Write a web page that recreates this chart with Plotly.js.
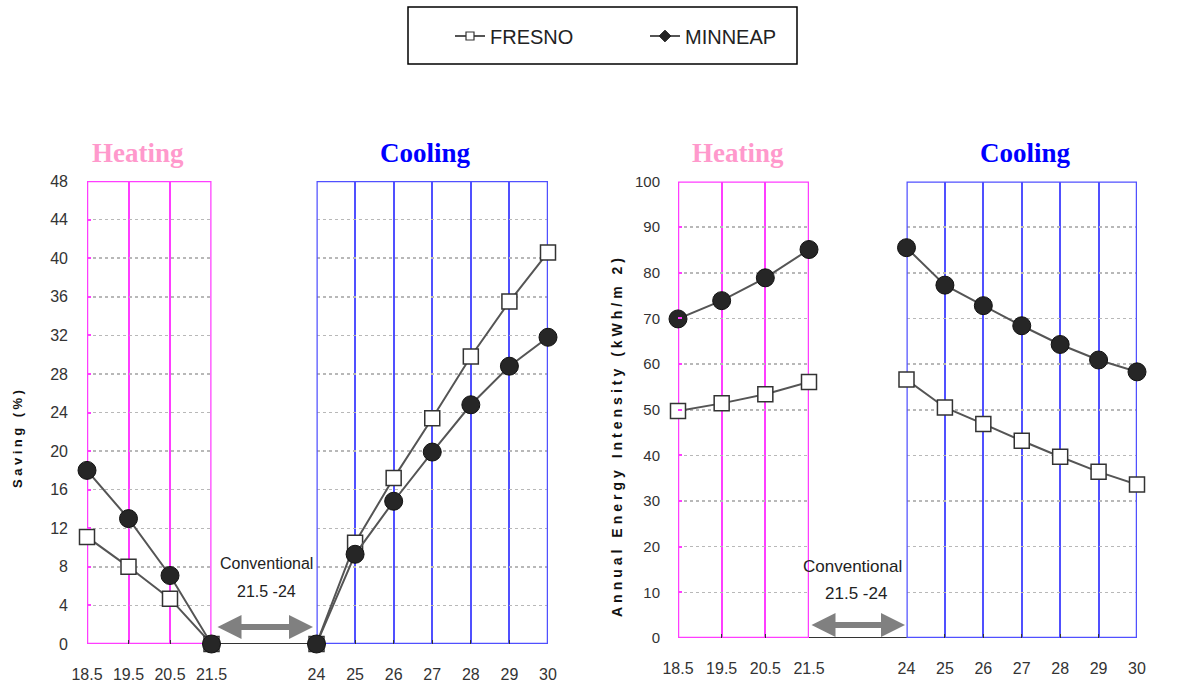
<!DOCTYPE html>
<html>
<head>
<meta charset="utf-8">
<script src="https://cdn.plot.ly/plotly-3.0.1.min.js"></script>
<style>html,body{margin:0;padding:0;background:#fff;}#chart{width:1181px;height:686px;}</style>
</head>
<body>
<div id="chart"></div>
<script>
// ---- data ----
const heatX = [18.5, 19.5, 20.5, 21.5];
const coolX = [24, 25, 26, 27, 28, 29, 30];
const heatLabels = ['18.5', '19.5', '20.5', '21.5'];
const coolLabels = ['24', '25', '26', '27', '28', '29', '30'];

// Saving (%)
const fresnoSaveHeat = [11.1, 8.0, 4.7, 0];
const minneapSaveHeat = [18.0, 13.0, 7.1, 0];
const fresnoSaveCool = [0, 10.5, 17.2, 23.4, 29.8, 35.5, 40.6];
const minneapSaveCool = [0, 9.3, 14.8, 19.9, 24.8, 28.8, 31.8];

// Annual Energy Intensity (kWh/m2)
const fresnoEnergyHeat = [49.7, 51.4, 53.4, 56.1];
const minneapEnergyHeat = [69.9, 73.9, 78.9, 85.1];
const fresnoEnergyCool = [56.6, 50.5, 46.9, 43.2, 39.7, 36.4, 33.6];
const minneapEnergyCool = [85.5, 77.3, 72.8, 68.4, 64.3, 60.9, 58.3];

const seriesNames = ['FRESNO', 'MINNEAP'];

// ---- layout helpers ----
const W = 1181, H = 686;
const px = v => v / W;
const py = v => 1 - v / H;
const FONT = 'Liberation Sans, Arial, sans-serif';
const SERIF = 'Liberation Serif, Times New Roman, serif';
const MAG = '#ff3dff';
const BLUE = '#5050ff';
const LINEC = '#555555';

const fresnoStyle = {
  mode: 'lines+markers', cliponaxis: false, showlegend: false,
  line: {color: LINEC, width: 2},
  marker: {symbol: 'square', size: 15, color: '#ffffff', line: {color: '#333333', width: 1.5}}
};
const minneapStyle = {
  mode: 'lines+markers', cliponaxis: false, showlegend: false,
  line: {color: LINEC, width: 2},
  marker: {symbol: 'circle', size: 18, color: '#262626', line: {color: '#111111', width: 1}}
};

function tr(style, name, x, y, xa, ya) {
  return Object.assign({}, style, {name: name, x: x, y: y, xaxis: xa, yaxis: ya,
    marker: Object.assign({}, style.marker), line: Object.assign({}, style.line)});
}

const data = [
  tr(fresnoStyle, seriesNames[0], heatX, fresnoSaveHeat, 'x', 'y'),
  tr(fresnoStyle, seriesNames[0], coolX, fresnoSaveCool, 'x2', 'y'),
  tr(minneapStyle, seriesNames[1], heatX, minneapSaveHeat, 'x', 'y'),
  tr(minneapStyle, seriesNames[1], coolX, minneapSaveCool, 'x2', 'y'),
  tr(fresnoStyle, seriesNames[0], heatX, fresnoEnergyHeat, 'x3', 'y3'),
  tr(fresnoStyle, seriesNames[0], coolX, fresnoEnergyCool, 'x4', 'y3'),
  tr(minneapStyle, seriesNames[1], heatX, minneapEnergyHeat, 'x3', 'y3'),
  tr(minneapStyle, seriesNames[1], coolX, minneapEnergyCool, 'x4', 'y3'),
  // legend entries
  {name: seriesNames[0], x: [null], y: [null], xaxis: 'x', yaxis: 'y', mode: 'lines+markers', showlegend: true,
   line: {color: LINEC, width: 2}, marker: {symbol: 'square', size: 8, color: '#fff', line: {color: '#333', width: 1.2}}},
  {name: seriesNames[1], x: [null], y: [null], xaxis: 'x', yaxis: 'y', mode: 'lines+markers', showlegend: true,
   line: {color: LINEC, width: 2}, marker: {symbol: 'diamond', size: 9, color: '#222', line: {color: '#222', width: 1}}}
];

function xAxis(dom, vals, labels, gridc, anchor) {
  return {
    domain: dom, range: [vals[0], vals[vals.length - 1]], anchor: anchor,
    tickmode: 'array', tickvals: vals, ticktext: labels,
    showgrid: true, gridcolor: gridc, gridwidth: 2,
    zeroline: false, showline: false,
    ticks: 'inside', ticklen: 4, tickcolor: '#333', tickwidth: 1,
    ticklabelstandoff: 19,
    tickfont: {family: FONT, size: 16, color: '#333'}
  };
}
function yAxis(dom, max, dt, anchor, tickc, extra) {
  return Object.assign({
    domain: dom, range: [0, max], dtick: dt, tick0: 0, anchor: anchor,
    showgrid: true, gridcolor: '#b8b8b8', griddash: 'dot', gridwidth: 1.5,
    zeroline: false, showline: false,
    ticks: 'inside', ticklen: 4, tickcolor: tickc, tickwidth: 2,
    ticklabelstandoff: 18,
    tickfont: {family: FONT, size: 16, color: '#333'}
  }, extra || {});
}

const domL = [py(644), py(181)];
const domR = [py(638), py(181.5)];

function ann(text, x, y, font, extra) {
  return Object.assign({text: text, xref: 'paper', yref: 'paper', x: px(x), y: py(y),
    xanchor: 'center', yanchor: 'middle', showarrow: false, font: font}, extra || {});
}

const layout = {
  width: W, height: H,
  margin: {l: 0, r: 0, t: 0, b: 0},
  paper_bgcolor: '#ffffff', plot_bgcolor: 'rgba(0,0,0,0)',
  font: {family: FONT},
  xaxis: xAxis([px(87), px(211.5)], heatX, heatLabels, MAG, 'y'),
  xaxis2: xAxis([px(316.5), px(548)], coolX, coolLabels, BLUE, 'y'),
  xaxis3: xAxis([px(678), px(809)], heatX, heatLabels, MAG, 'y3'),
  xaxis4: xAxis([px(906.5), px(1137)], coolX, coolLabels, BLUE, 'y3'),
  yaxis: yAxis(domL, 48, 4, 'x', MAG),
  yaxis2: yAxis(domL, 48, 4, 'x2', BLUE, {overlaying: 'y', side: 'right', showgrid: false, ticklabelstandoff: 13}),
  yaxis3: yAxis(domR, 100, 10, 'x3', MAG, {ticklabelstandoff: 17, tickfont: {family: FONT, size: 15, color: '#333'}}),
  yaxis4: yAxis(domR, 100, 10, 'x4', BLUE, {overlaying: 'y3', side: 'right', showgrid: false, ticklabelstandoff: 13,
    tickfont: {family: FONT, size: 15, color: '#333'}}),
  showlegend: true,
  legend: {
    orientation: 'h', x: px(450), xanchor: 'left', y: py(36), yanchor: 'middle',
    bgcolor: 'rgba(0,0,0,0)', borderwidth: 0,
    font: {family: FONT, size: 20, color: '#222'},
    entrywidth: 150
  },
  shapes: [
    // panel frames
    {type: 'rect', xref: 'x', yref: 'y', x0: 18.5, x1: 21.5, y0: 0, y1: 48, line: {color: MAG, width: 2.5}, layer: 'between'},
    {type: 'rect', xref: 'x2', yref: 'y', x0: 24, x1: 30, y0: 0, y1: 48, line: {color: BLUE, width: 2.5}, layer: 'between'},
    {type: 'rect', xref: 'x3', yref: 'y3', x0: 18.5, x1: 21.5, y0: 0, y1: 100, line: {color: MAG, width: 2.5}, layer: 'between'},
    {type: 'rect', xref: 'x4', yref: 'y3', x0: 24, x1: 30, y0: 0, y1: 100, line: {color: BLUE, width: 2.5}, layer: 'between'},
    // baselines
    {type: 'line', xref: 'paper', yref: 'y', x0: px(87), x1: px(548), y0: 0, y1: 0, line: {color: '#333', width: 2}, layer: 'between'},
    {type: 'line', xref: 'paper', yref: 'y3', x0: px(678), x1: px(1137), y0: 0, y1: 0, line: {color: '#333', width: 2}, layer: 'between'},
    // legend box
    {type: 'rect', xref: 'paper', yref: 'paper', x0: px(408), x1: px(797), y0: py(64), y1: py(7), line: {color: '#000', width: 1.5}}
  ],
  annotations: [
    ann('<b>Heating</b>', 138, 153, {family: SERIF, size: 27, color: '#ff99cc'}),
    ann('<b>Cooling</b>', 425, 153, {family: SERIF, size: 27, color: '#0000ff'}),
    ann('<b>Heating</b>', 738, 153, {family: SERIF, size: 27, color: '#ff99cc'}),
    ann('<b>Cooling</b>', 1025, 153, {family: SERIF, size: 27, color: '#0000ff'}),
    ann('<b><span style="letter-spacing:3.5px">Saving (%)</span></b>', 17, 438, {family: FONT, size: 13, color: '#111'}, {textangle: -90}),
    ann('<b><span style="letter-spacing:4px">Annual Energy Intensity (kWh/m 2)</span></b>', 617, 436,
        {family: FONT, size: 14, color: '#111'}, {textangle: -90}),
    ann('Conventional', 266, 563, {family: FONT, size: 16, color: '#222'}),
    ann('21.5 -24', 266, 591, {family: FONT, size: 16, color: '#222'}),
    ann('Conventional', 852, 566, {family: FONT, size: 17, color: '#222'}),
    ann('21.5 -24', 856, 593, {family: FONT, size: 17, color: '#222'}),
    // double arrows
    {text: '', xref: 'paper', yref: 'paper', x: px(313), y: py(627), axref: 'pixel', ayref: 'pixel', ax: -97, ay: 0,
     showarrow: true, arrowside: 'end+start', arrowhead: 2, startarrowhead: 2, arrowsize: 0.8, startarrowsize: 0.8,
     arrowwidth: 6, arrowcolor: '#808080', standoff: 0, startstandoff: 0},
    {text: '', xref: 'paper', yref: 'paper', x: px(905), y: py(625), axref: 'pixel', ayref: 'pixel', ax: -95, ay: 0,
     showarrow: true, arrowside: 'end+start', arrowhead: 2, startarrowhead: 2, arrowsize: 0.8, startarrowsize: 0.8,
     arrowwidth: 6, arrowcolor: '#808080', standoff: 0, startstandoff: 0}
  ]
};

Plotly.newPlot('chart', data, layout, {displayModeBar: false, staticPlot: true});
</script>
</body>
</html>
